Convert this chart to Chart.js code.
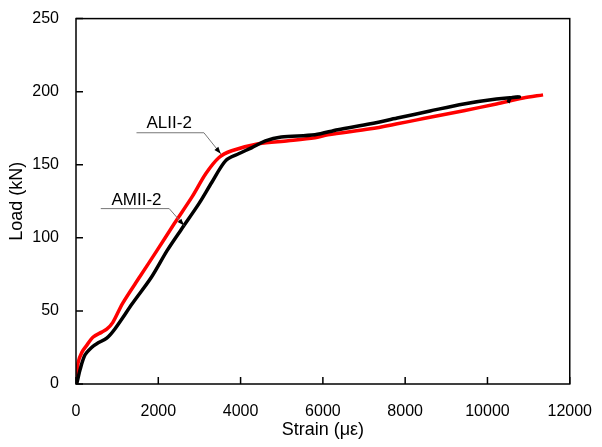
<!DOCTYPE html>
<html>
<head>
<meta charset="utf-8">
<script src="https://cdn.jsdelivr.net/npm/chart.js@4/dist/chart.umd.min.js"></script>
<style>
  html, body { margin: 0; padding: 0; background: #fff; }
  #wrap { width: 602px; height: 447px; }
</style>
</head>
<body>
<div id="wrap"><canvas id="loadChart" width="602" height="447"></canvas></div>
<script>
/* ─── DATA ────────────────────────────────────────────────── */
const aliiStrain = [0, 24, 48, 145, 265, 410, 627, 747, 892, 1133, 1542, 1970, 2390, 2820, 3157, 3470, 3784,
                    4434, 5157, 5807, 6121, 7157, 7808, 8290, 8604, 9423, 10218, 10869, 11351];
const aliiLoad   = [0, 2.7, 14.3, 21.8, 26.6, 32, 35.5, 37.5, 42, 55.2, 73, 91.4, 109.8, 128, 144, 154.8, 159.6,
                    164.4, 166.4, 168.5, 170.5, 174.6, 178, 180.7, 182.5, 187, 191.6, 195.7, 197.8];

const amiiStrain = [0, 24, 96, 217, 386, 530, 747, 940, 1374, 1832, 2217, 2555, 2988, 3302, 3639, 3952,
                    4265, 4603, 4988, 5807, 6362, 7157, 7808, 8217, 8604, 9423, 10218, 10772, 10560, 10500];
const amiiLoad   = [0, 1, 9.5, 19.8, 25.2, 28, 31.4, 37.5, 55.2, 73, 91.4, 105.6, 123.4, 138, 152.8, 157.5,
                    161.6, 166.4, 169, 170.5, 174, 178, 182, 184.4, 186.8, 191.6, 195, 196.4, 195.6, 192.5];

const xTicks = [0, 2000, 4000, 6000, 8000, 10000, 12000];
const yTicks = [0, 50, 100, 150, 200, 250];

// label text, text anchor, underline start/end, arrow tip (data units)
const callouts = [
  { text: 'ALII-2', tx: 2265, ty: 175.3, x0: 1470, x1: 3109, y: 171.9, ax: 3518, ay: 157.5 },
  { text: 'AMII-2', tx: 1470, ty: 122.8, x0: 602,  x1: 2265, y: 120,   ax: 2627, ay: 108.4 },
];

const FONT = '"Liberation Sans", Arial, sans-serif';
const toXY = (xs, ys) => xs.map((x, i) => ({ x, y: ys[i] }));

/* ─── FRAME + INWARD TICKS + CALLOUTS ─────────────────────── */
const framePlugin = {
  id: 'frame',
  afterDatasetsDraw(chart) {
    const { ctx, chartArea: a, scales: { x, y } } = chart;
    ctx.save();
    ctx.strokeStyle = '#000';
    ctx.lineWidth = 1.5;
    ctx.strokeRect(a.left, a.top, a.right - a.left, a.bottom - a.top);

    ctx.beginPath();
    xTicks.forEach(v => {
      const px = x.getPixelForValue(v);
      ctx.moveTo(px, a.bottom);
      ctx.lineTo(px, a.bottom - 7);
    });
    yTicks.forEach(v => {
      const py = y.getPixelForValue(v);
      ctx.moveTo(a.left, py);
      ctx.lineTo(a.left + 7, py);
    });
    ctx.stroke();

    ctx.font = '17px ' + FONT;
    ctx.textAlign = 'center';
    ctx.textBaseline = 'alphabetic';
    callouts.forEach(c => {
      const x0 = x.getPixelForValue(c.x0), x1 = x.getPixelForValue(c.x1);
      const ly = y.getPixelForValue(c.y);
      const ax = x.getPixelForValue(c.ax), ay = y.getPixelForValue(c.ay);

      ctx.fillStyle = '#000';
      ctx.fillText(c.text, x.getPixelForValue(c.tx), y.getPixelForValue(c.ty));

      ctx.strokeStyle = '#777';
      ctx.lineWidth = 1;
      ctx.beginPath();
      ctx.moveTo(x0, ly);
      ctx.lineTo(x1, ly);
      ctx.lineTo(ax, ay);
      ctx.stroke();

      // arrow head
      const ang = Math.atan2(ay - ly, ax - x1);
      const len = 7, w = 2.5;
      ctx.fillStyle = '#000';
      ctx.beginPath();
      ctx.moveTo(ax, ay);
      ctx.lineTo(ax - len * Math.cos(ang) + w * Math.sin(ang), ay - len * Math.sin(ang) - w * Math.cos(ang));
      ctx.lineTo(ax - len * Math.cos(ang) - w * Math.sin(ang), ay - len * Math.sin(ang) + w * Math.cos(ang));
      ctx.closePath();
      ctx.fill();
    });
    ctx.restore();
  },
};

/* ─── CHART ───────────────────────────────────────────────── */
new Chart(document.getElementById('loadChart'), {
  type: 'line',
  data: {
    datasets: [
      {
        label: 'AMII-2',
        data: toXY(amiiStrain, amiiLoad),
        borderColor: '#000',
        borderWidth: 3.5,
        pointRadius: 0,
        tension: 0.3,
      },
      {
        label: 'ALII-2',
        data: toXY(aliiStrain, aliiLoad),
        borderColor: '#ff0000',
        borderWidth: 3.5,
        pointRadius: 0,
        tension: 0.3,
      },
    ],
  },
  options: {
    responsive: false,
    animation: false,
    layout: { padding: { top: 17, right: 28, left: 0, bottom: 0 } },
    plugins: { legend: { display: false }, tooltip: { enabled: false } },
    scales: {
      x: {
        type: 'linear',
        min: 0, max: 12000,
        afterBuildTicks: s => { s.ticks = xTicks.map(v => ({ value: v })); },
        afterFit: s => { s.height = 63; },
        grid: { display: false },
        border: { display: false },
        ticks: { color: '#000', font: { family: FONT, size: 16 }, padding: 10, maxRotation: 0, callback: v => String(v) },
        title: { display: true, text: 'Strain (με)', color: '#000', font: { family: FONT, size: 18 }, padding: { top: 4, bottom: 6 } },
      },
      y: {
        min: 0, max: 250,
        afterBuildTicks: s => { s.ticks = yTicks.map(v => ({ value: v })); },
        afterFit: s => { s.width = 76; },
        grid: { display: false },
        border: { display: false },
        ticks: { color: '#000', font: { family: FONT, size: 16 }, padding: 9, callback: v => String(v) },
        title: { display: true, text: 'Load (kN)', color: '#000', font: { family: FONT, size: 18 }, padding: { top: 6, bottom: 4 } },
      },
    },
  },
  plugins: [framePlugin],
});
</script>
</body>
</html>
